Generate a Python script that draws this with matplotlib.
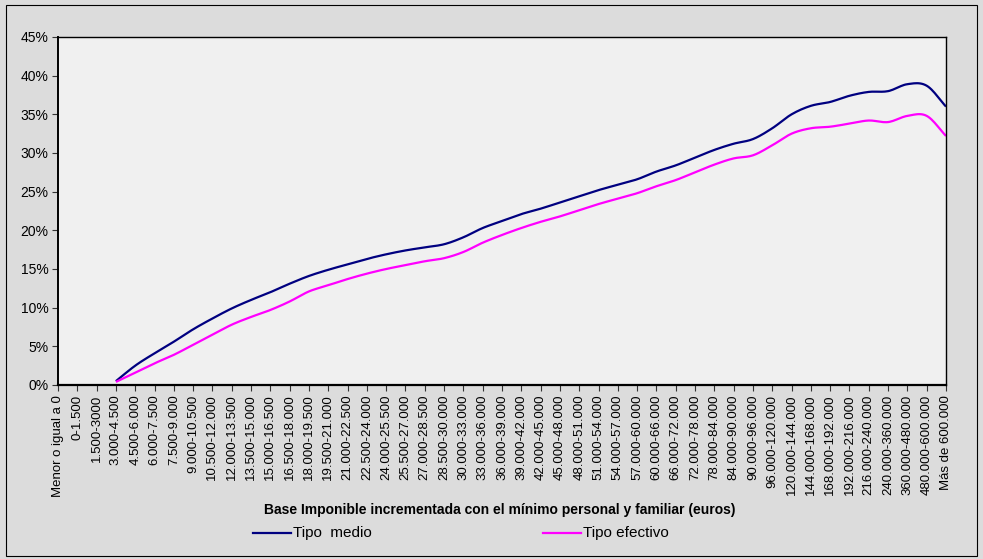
import numpy as np
import matplotlib
matplotlib.use("Agg")
import matplotlib.pyplot as plt
from matplotlib.patches import Rectangle
from matplotlib.lines import Line2D

plt.rcParams['font.family'] = ['Liberation Sans', 'DejaVu Sans']

tramos = ["Menor o igual a 0", "0-1.500", "1.500-3000", "3.000-4.500", "4.500-6.000",
          "6.000-7.500", "7.500-9.000", "9.000-10.500", "10.500-12.000", "12.000-13.500",
          "13.500-15.000", "15.000-16.500", "16.500-18.000", "18.000-19.500", "19.500-21.000",
          "21.000-22.500", "22.500-24.000", "24.000-25.500", "25.500-27.000", "27.000-28.500",
          "28.500-30.000", "30.000-33.000", "33.000-36.000", "36.000-39.000", "39.000-42.000",
          "42.000-45.000", "45.000-48.000", "48.000-51.000", "51.000-54.000", "54.000-57.000",
          "57.000-60.000", "60.000-66.000", "66.000-72.000", "72.000-78.000", "78.000-84.000",
          "84.000-90.000", "90.000-96.000", "96.000-120.000", "120.000-144.000", "144.000-168.000",
          "168.000-192.000", "192.000-216.000", "216.000-240.000", "240.000-360.000",
          "360.000-480.000", "480.000-600.000", "Más de 600.000"]

# porcentajes; los tres primeros tramos sin dato
tipo_medio = [None, None, None, 0.5, 2.5, 4.1, 5.6, 7.2, 8.6, 9.9, 11.0, 12.0, 13.1, 14.1,
              14.9, 15.6, 16.3, 16.9, 17.4, 17.8, 18.2, 19.1, 20.3, 21.2, 22.1, 22.8, 23.6,
              24.4, 25.2, 25.9, 26.6, 27.6, 28.4, 29.4, 30.4, 31.2, 31.8, 33.2, 35.0, 36.1,
              36.6, 37.4, 37.9, 38.0, 38.9, 38.7, 36.0]
tipo_efectivo = [None, None, None, 0.4, 1.6, 2.8, 3.9, 5.2, 6.5, 7.8, 8.8, 9.7, 10.8, 12.1,
                 12.9, 13.7, 14.4, 15.0, 15.5, 16.0, 16.4, 17.2, 18.4, 19.4, 20.3, 21.1, 21.8,
                 22.6, 23.4, 24.1, 24.8, 25.7, 26.5, 27.5, 28.5, 29.3, 29.7, 31.0, 32.5, 33.2,
                 33.4, 33.8, 34.2, 34.0, 34.8, 34.8, 32.2]


def suavizar(x, y, n=12):
    # curva tipo Catmull-Rom entre puntos, como la linea suavizada de Excel
    x = np.asarray(x, float)
    y = np.asarray(y, float)
    px = np.concatenate([[2 * x[0] - x[1]], x, [2 * x[-1] - x[-2]]])
    py = np.concatenate([[2 * y[0] - y[1]], y, [2 * y[-1] - y[-2]]])
    xs, ys = [], []
    t = np.linspace(0, 1, n, endpoint=False)
    for i in range(1, len(px) - 2):
        for p, out in ((px, xs), (py, ys)):
            p0, p1, p2, p3 = p[i - 1], p[i], p[i + 1], p[i + 2]
            out.extend(0.5 * ((2 * p1) + (-p0 + p2) * t + (2 * p0 - 5 * p1 + 4 * p2 - p3) * t ** 2
                              + (-p0 + 3 * p1 - 3 * p2 + p3) * t ** 3))
    xs.append(x[-1])
    ys.append(y[-1])
    return np.array(xs), np.array(ys)


fig = plt.figure(figsize=(9.83, 5.59), dpi=100, facecolor='#DCDCDC')
fig.patches.append(Rectangle((0.006, 0.006), 0.988, 0.985, transform=fig.transFigure,
                             fill=False, edgecolor='black', linewidth=0.8))
ax = fig.add_axes([58 / 983, 1 - 385 / 559, 888 / 983, 348 / 559])
ax.set_facecolor('#F0F0F0')

for serie, color in ((tipo_medio, '#000080'), (tipo_efectivo, '#FF00FF')):
    idx = [i for i, v in enumerate(serie) if v is not None]
    vals = [serie[i] / 100 for i in idx]
    sx, sy = suavizar(idx, vals)
    ax.plot(sx, sy, color=color, linewidth=1.6, solid_capstyle='butt')

ax.set_xlim(0, len(tramos) - 1)
ax.set_ylim(0, 0.45)
ax.set_xticks(range(len(tramos)))
ax.set_xticklabels(tramos, rotation=90, fontsize=9.5)
ax.set_yticks(np.arange(0, 0.451, 0.05))
ax.set_yticklabels([f"{int(round(v * 100))}%" for v in np.arange(0, 0.451, 0.05)], fontsize=10)
ax.tick_params(axis='both', direction='out', length=4, width=0.8, color='#333333', pad=3)
for s in ax.spines.values():
    s.set_linewidth(1.0)
ax.spines['left'].set_linewidth(1.4)
ax.spines['bottom'].set_linewidth(1.6)

fig.text(500 / 983, 1 - 510 / 559, "Base Imponible incrementada con el mínimo personal y familiar (euros)",
         ha='center', va='center', fontsize=10, fontweight='bold')

# leyenda
for x0, color, label in ((253, '#000080', "Tipo  medio"), (543, '#FF00FF', "Tipo efectivo")):
    fig.lines.append(Line2D([x0 / 983, (x0 + 38) / 983], [1 - 533 / 559] * 2, transform=fig.transFigure,
                            color=color, linewidth=1.6))
    fig.text((x0 + 40) / 983, 1 - 533 / 559, label, ha='left', va='center', fontsize=11)

fig.savefig("out.png", dpi=100, facecolor=fig.get_facecolor())
